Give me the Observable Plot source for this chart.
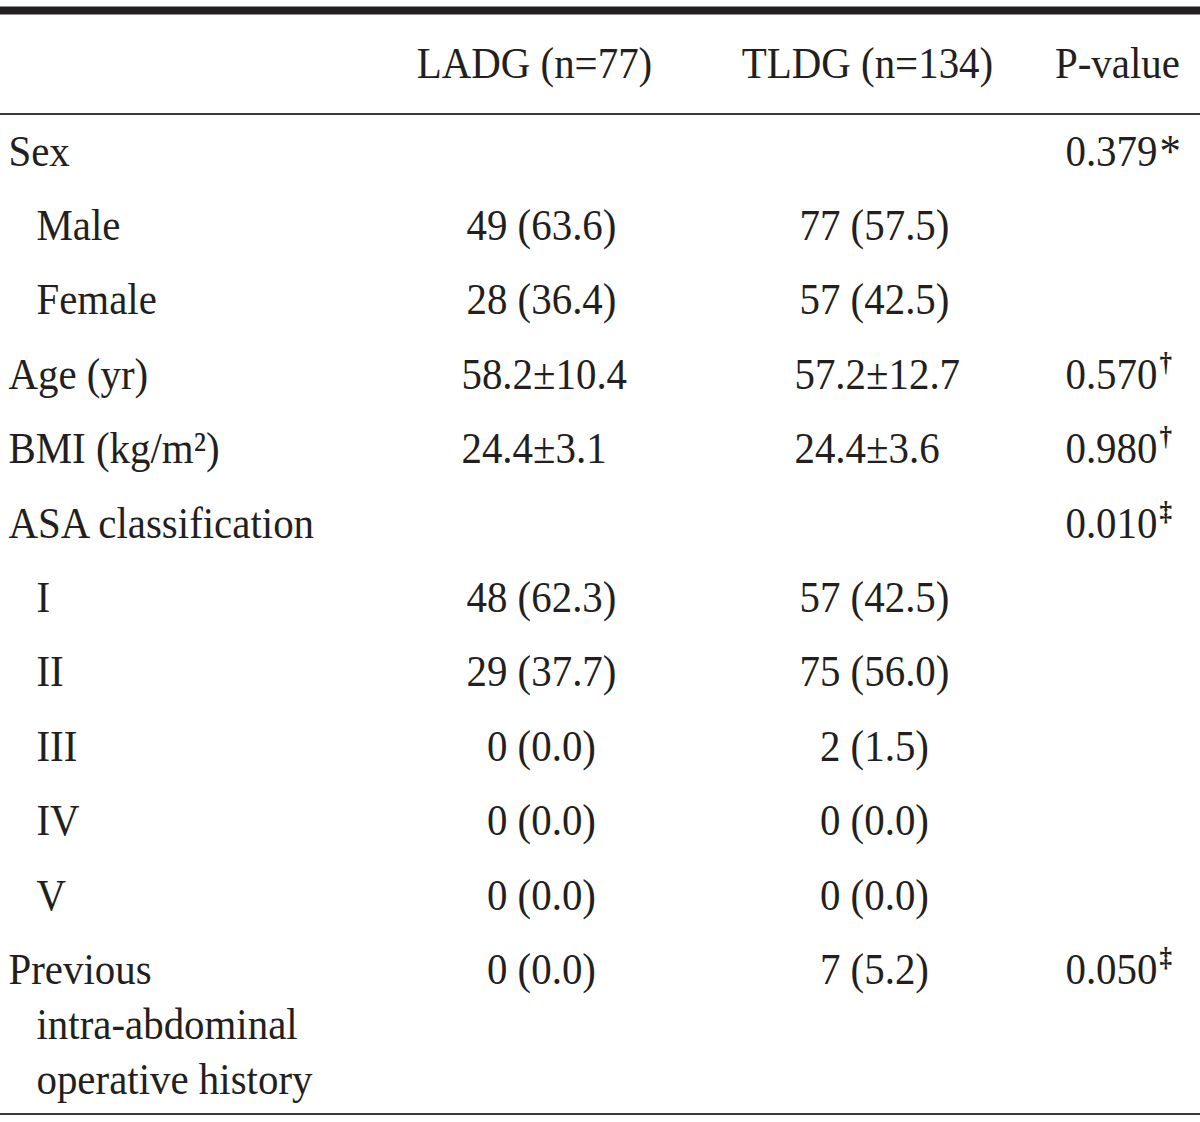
<!DOCTYPE html>
<html>
<head>
<meta charset="utf-8">
<script src="https://cdn.jsdelivr.net/npm/d3@7"></script>
<script src="https://cdn.jsdelivr.net/npm/@observablehq/plot@0.6"></script>
<style>
  html, body { margin: 0; padding: 0; background: #fff; overflow: hidden; }
</style>
</head>
<body>
<div id="chart"></div>
<script>
// ---- Data ----
const columns = ["LADG (n=77)", "TLDG (n=134)", "P-value"];
const rowLabels = [
  "Sex", "Male", "Female", "Age (yr)", "BMI (kg/m²)", "ASA classification",
  "I", "II", "III", "IV", "V", "Previous\nintra-abdominal\noperative history"
];
const rowLevel = [0, 1, 1, 0, 0, 0, 1, 1, 1, 1, 1, 0];
const ladg = ["", "49 (63.6)", "28 (36.4)", "58.2±10.4", "24.4±3.1", "", "48 (62.3)", "29 (37.7)", "0 (0.0)", "0 (0.0)", "0 (0.0)", "0 (0.0)"];
const tldg = ["", "77 (57.5)", "57 (42.5)", "57.2±12.7", "24.4±3.6", "", "57 (42.5)", "75 (56.0)", "2 (1.5)", "0 (0.0)", "0 (0.0)", "7 (5.2)"];
const pValues = ["0.379", "", "", "0.570", "0.980", "0.010", "", "", "", "", "", "0.050"];
const pNotes = ["*", "", "", "†", "†", "‡", "", "", "", "", "", "‡"];

// ---- Layout (reference pixel space) ----
const W = 1200, H = 1122, SX = 0.93;
const FS = 44;
const INK = "#231f20";
const L = {
  topRule: 10, headRule: 113.5, bottomRule: 1113.5,
  headBase: 77, firstBase: 165, rowStep: 74.4, wrapStep: 55,
  labelX: [8, 36], colCenter: [541, 874], colStart: [461, 794],
  headCenter: [534, 867, 1117], pEnd: 1157
};

// ---- Build cells ----
const cells = [];
const sups = [];
columns.forEach((c, k) => cells.push({text: c, x: L.headCenter[k], base: L.headBase, anchor: "middle"}));
rowLabels.forEach((lab, i) => {
  const base = L.firstBase + i * L.rowStep;
  lab.split("\n").forEach((t, j) => cells.push({
    text: t, x: L.labelX[Math.min(1, rowLevel[i] + (j ? 1 : 0))], base: base + j * L.wrapStep, anchor: "start"
  }));
  [ladg, tldg].forEach((arr, c) => {
    const v = arr[i];
    if (!v) return;
    const mean = v.includes("±");
    cells.push({text: v, x: mean ? L.colStart[c] : L.colCenter[c], base, anchor: mean ? "start" : "middle"});
  });
  if (pValues[i]) {
    cells.push({text: pValues[i], x: L.pEnd, base, anchor: "end"});
    sups.push({text: pNotes[i], x: L.pEnd + 2, base});
  }
});

const textOpts = (anchor) => ({
  x: "x", y: "base", text: "text", textAnchor: anchor, lineAnchor: "middle",
  fontSize: FS, dy: -0.32 * FS, fill: INK, fontFamily: "Liberation Serif"
});

const plot = Plot.plot({
  width: W / SX,
  height: H,
  margin: 0,
  x: {type: "linear", domain: [0, W], range: [0, W / SX], axis: null},
  y: {type: "linear", domain: [0, H], range: [0, H], axis: null},
  style: {fontFamily: "Liberation Serif", background: "#fff", color: INK},
  marks: [
    Plot.ruleY([L.topRule], {y: d => d, stroke: INK, strokeWidth: 8}),
    Plot.ruleY([L.headRule, L.bottomRule], {y: d => d, stroke: "#3a3a3a", strokeWidth: 2}),
    Plot.text(cells.filter(d => d.anchor === "start"), textOpts("start")),
    Plot.text(cells.filter(d => d.anchor === "middle"), textOpts("middle")),
    Plot.text(cells.filter(d => d.anchor === "end"), textOpts("end")),
    Plot.text(sups.filter(d => d.text !== "*"), {
      x: "x", y: "base", text: "text", textAnchor: "start", lineAnchor: "middle",
      fontSize: 27, fontWeight: 600, dy: -18 - 0.32 * 27, fill: INK, fontFamily: "Liberation Serif"
    }),
    Plot.text(sups.filter(d => d.text === "*"), {
      x: "x", y: "base", text: "text", textAnchor: "start", lineAnchor: "middle",
      fontSize: 46, dy: 1 - 0.32 * 46, fill: INK, fontFamily: "Liberation Serif"
    })
  ]
});

// compress horizontally so glyph proportions match the reference
plot.setAttribute("width", W);
plot.setAttribute("height", H);
plot.setAttribute("preserveAspectRatio", "none");
plot.style.width = W + "px";
plot.style.height = H + "px";
plot.style.maxWidth = "none";
document.getElementById("chart").appendChild(plot);
</script>
</body>
</html>
